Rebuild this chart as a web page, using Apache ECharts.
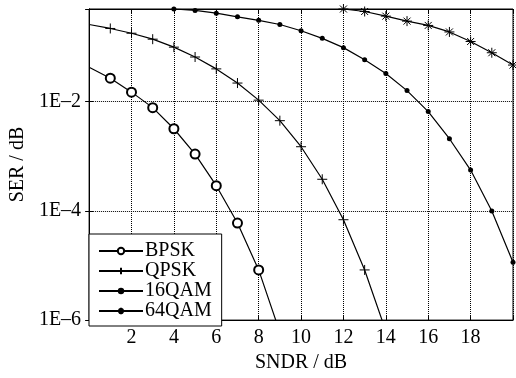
<!DOCTYPE html>
<html>
<head>
<meta charset="utf-8">
<script src="https://cdn.jsdelivr.net/npm/echarts@6/dist/echarts.min.js"></script>
<style>
  html, body { margin: 0; padding: 0; background: #fff; }
  #chart { width: 516px; height: 378px; }
</style>
</head>
<body>
<div id="chart"></div>
<script>
// SER curves (SNDR in dB, SER linear)
const bpskSndr = [0, 1, 2, 3, 4, 5, 6, 7, 8, 9];
const bpskSer = [0.043, 0.027, 0.015, 0.0078, 0.0032, 0.0011, 2.9e-4, 6e-5, 8.3e-6, 6e-7];
const qpskSndr = [0, 1, 2, 3, 4, 5, 6, 7, 8, 9, 10, 11, 12, 13, 14];
const qpskSer = [0.26, 0.22, 0.18, 0.14, 0.10, 0.066, 0.040, 0.022, 0.0107, 0.0045, 0.0015, 3.8e-4, 6.9e-5, 8.3e-6, 6.3e-7];
const qam16Sndr = [4, 5, 6, 7, 8, 9, 10, 11, 12, 13, 14, 15, 16, 17, 18, 19, 20];
const qam16Ser = [0.5, 0.47, 0.42, 0.36, 0.31, 0.26, 0.20, 0.145, 0.098, 0.059, 0.033, 0.016, 0.0066, 0.0021, 5.6e-4, 1.0e-4, 1.15e-5];
const qam64Sndr = [12, 13, 14, 15, 16, 17, 18, 19, 20];
const qam64Ser = [0.5, 0.45, 0.37, 0.30, 0.25, 0.19, 0.127, 0.079, 0.047];
const seriesNames = ["BPSK", "QPSK", "16QAM", "64QAM"];
const yTickExponents = [-6, -4, -2];

const font = "Liberation Serif";
const plusPath = "path://M5,0L5,10M0,5L10,5";
const starPath = "path://M5,0L5,10M0,5L10,5M1.5,1.5L8.5,8.5M1.5,8.5L8.5,1.5";

function pairs(xs, ys, hidden) {
  return xs.map((x, i) => {
    const item = { value: [x, ys[i]] };
    if (hidden.includes(x)) item.symbol = "none";
    return item;
  });
}

function yLabel(v) {
  const e = Math.log10(v);
  const r = Math.round(e);
  if (Math.abs(e - r) > 1e-6 || !yTickExponents.includes(r)) return "";
  return "1E\u2013" + Math.abs(r);
}

const chart = echarts.init(document.getElementById("chart"), null, { renderer: "canvas" });

const lineSeries = (name, data, symbol, size, borderWidth) => ({
  name,
  type: "line",
  data,
  symbol,
  symbolSize: size,
  showAllSymbol: true,
  animation: false,
  clip: true,
  lineStyle: { color: "#000", width: 1.2 },
  itemStyle: { color: "#000", borderColor: "#000", borderWidth },
  emphasis: { disabled: true }
});

chart.setOption({
  animation: false,
  textStyle: { fontFamily: font, color: "#000" },
  grid: { left: 83, right: 1, top: 9, bottom: 52, show: true, borderColor: "#000", borderWidth: 1, backgroundColor: "transparent" },
  legend: {
    orient: "vertical",
    left: 89,
    top: 234,
    itemWidth: 44,
    itemHeight: 8,
    itemGap: 0,
    padding: [7, 10, 5, 9],
    backgroundColor: "#fff",
    borderColor: "#000",
    borderWidth: 1,
    borderRadius: 0,
    textStyle: { fontFamily: font, fontSize: 20, color: "#000", padding: [0, 0, 0, -3] },
    data: seriesNames
  },
  xAxis: [{
    type: "value",
    min: 0,
    max: 20,
    interval: 2,
    name: "SNDR / dB",
    nameLocation: "middle",
    nameGap: 31,
    nameTextStyle: { fontFamily: font, fontSize: 20, color: "#000" },
    axisLine: { lineStyle: { color: "#000", width: 1 } },
    axisTick: { inside: true, length: 4, lineStyle: { color: "#000" } },
    axisLabel: {
      fontFamily: font, fontSize: 20, color: "#000", margin: 8,
      formatter: (v) => (v === 0 || v === 20 ? "" : String(v))
    },
    splitLine: { show: true, lineStyle: { color: "#000", type: "dotted", width: 1 } }
  }, {
    type: "value",
    position: "top",
    min: 0,
    max: 20,
    interval: 2,
    axisLine: { lineStyle: { color: "#000" } },
    axisTick: { inside: true, length: 4, lineStyle: { color: "#000" } },
    axisLabel: { show: false },
    splitLine: { show: false }
  }],
  yAxis: [{
    type: "log",
    logBase: 10,
    min: 1e-6,
    max: 0.5,
    interval: 2,
    name: "SER / dB",
    nameLocation: "middle",
    nameRotate: 90,
    nameGap: 56,
    nameTextStyle: { fontFamily: font, fontSize: 20, color: "#000" },
    axisLine: { lineStyle: { color: "#000", width: 1 } },
    axisTick: { inside: true, length: 4, lineStyle: { color: "#000" } },
    axisLabel: { fontFamily: font, fontSize: 20, color: "#000", margin: 8, formatter: yLabel },
    splitLine: { show: true, lineStyle: { color: "#000", type: "dotted", width: 1 } }
  }, {
    type: "log",
    logBase: 10,
    position: "right",
    min: 1e-6,
    max: 0.5,
    interval: 2,
    axisLine: { lineStyle: { color: "#000" } },
    axisTick: { inside: true, length: 4, lineStyle: { color: "#000" } },
    axisLabel: { show: false },
    splitLine: { show: false }
  }],
  series: [
    lineSeries("BPSK", pairs(bpskSndr, bpskSer, [0]), "emptyCircle", 9, 1),
    lineSeries("QPSK", pairs(qpskSndr, qpskSer, [0]), plusPath, 10, 1),
    lineSeries("16QAM", pairs(qam16Sndr, qam16Ser, []), "circle", 5, 0),
    lineSeries("64QAM", pairs(qam64Sndr, qam64Ser, []), starPath, 10, 1)
  ]
});
</script>
</body>
</html>
